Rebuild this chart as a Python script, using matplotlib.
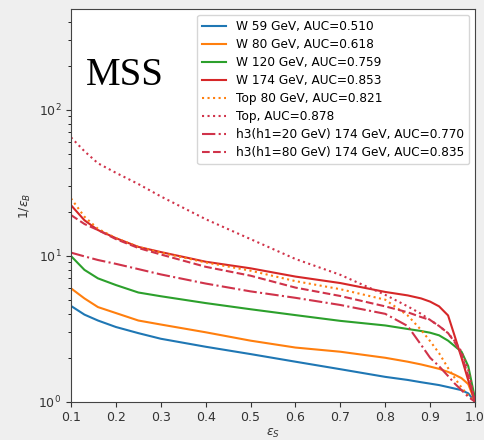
import matplotlib
matplotlib.use("Agg")
import matplotlib.pyplot as plt
from matplotlib.ticker import FixedLocator

# Signal efficiency grid shared by all ROC curves
eps_s = [0.10, 0.13, 0.16, 0.20, 0.25, 0.30, 0.40, 0.50, 0.60, 0.70,
         0.80, 0.85, 0.88, 0.90, 0.92, 0.94, 0.955, 0.97, 0.985, 1.00]

# Background rejection 1/eps_B for each tagger
w59 = [4.53, 3.95, 3.6, 3.25, 2.95, 2.7, 2.38, 2.12, 1.88, 1.67,
       1.48, 1.41, 1.36, 1.33, 1.30, 1.26, 1.23, 1.2, 1.14, 1.0]
w80 = [5.98, 5.1, 4.45, 4.05, 3.6, 3.38, 2.99, 2.62, 2.35, 2.2,
       2.0, 1.88, 1.8, 1.74, 1.68, 1.6, 1.53, 1.45, 1.32, 1.0]
w120 = [9.95, 8.0, 7.0, 6.3, 5.6, 5.28, 4.74, 4.3, 3.92, 3.58,
        3.33, 3.15, 3.05, 2.97, 2.85, 2.62, 2.4, 2.2, 1.75, 1.05]
w174 = [22.2, 17.5, 15.0, 13.2, 11.5, 10.6, 9.1, 8.2, 7.2, 6.5,
        5.65, 5.35, 5.1, 4.85, 4.5, 3.9, 2.8, 2.0, 1.4, 1.0]
top80 = [24.7, 18.5, 15.3, 13.2, 11.5, 10.5, 9.0, 7.9, 6.7, 5.9,
         5.0, 3.9, 3.1, 2.6, 2.15, 1.7, 1.45, 1.25, 1.1, 1.0]
top = [64.7, 52.0, 43.0, 37.0, 31.0, 25.5, 17.8, 13.0, 9.5, 7.4,
       5.4, 4.5, 4.0, 3.63, 3.3, 2.95, 2.6, 2.2, 1.65, 1.0]
h3_h1_20 = [10.5, 9.9, 9.35, 8.8, 8.1, 7.45, 6.45, 5.7, 5.15, 4.6,
            4.0, 3.3, 2.45, 2.0, 1.75, 1.5, 1.33, 1.2, 1.08, 1.0]
h3_h1_80 = [19.0, 16.5, 15.0, 13.0, 11.3, 10.2, 8.4, 7.3, 6.05, 5.3,
            4.5, 4.1, 3.8, 3.63, 3.3, 2.95, 2.55, 2.1, 1.5, 1.0]

labels = ["W 59 GeV, AUC=0.510", "W 80 GeV, AUC=0.618",
          "W 120 GeV, AUC=0.759", "W 174 GeV, AUC=0.853",
          "Top 80 GeV, AUC=0.821", "Top, AUC=0.878",
          "h3(h1=20 GeV) 174 GeV, AUC=0.770",
          "h3(h1=80 GeV) 174 GeV, AUC=0.835"]

x_ticks = [0.1, 0.2, 0.3, 0.4, 0.5, 0.6, 0.7, 0.8, 0.9, 1.0]

fig = plt.figure(figsize=(4.85, 4.4), dpi=100, facecolor="#efefef")
ax = fig.add_axes([0.1464, 0.087, 0.833, 0.8925])
ax.set_facecolor("white")

red = "#d62728"
pink_red = "#d0334a"
series = [
    (w59, "#1f77b4", "-"),
    (w80, "#ff7f0e", "-"),
    (w120, "#2ca02c", "-"),
    (w174, red, "-"),
    (top80, "#ff7f0e", ":"),
    (top, pink_red, ":"),
    (h3_h1_20, pink_red, "-."),
    (h3_h1_80, pink_red, "--"),
]
for (vals, col, ls), lab in zip(series, labels):
    ax.plot(eps_s, vals, color=col, linestyle=ls, linewidth=1.5, label=lab)

ax.set_yscale("log")
ax.set_xlim(0.1, 1.0)
ax.set_ylim(1, 490)
ax.xaxis.set_major_locator(FixedLocator(x_ticks))
ax.set_xticklabels([f"{t:.1f}" for t in x_ticks])

tick_col = "#333333"
ax.tick_params(axis="both", labelsize=9, colors=tick_col)
for s in ax.spines.values():
    s.set_color("#444444")

ax.set_xlabel(r"$\epsilon_S$", fontsize=9, color=tick_col, labelpad=2)
ax.set_ylabel(r"$1/\epsilon_B$", fontsize=9, color=tick_col)

ax.legend(loc="upper right", fontsize=8.7, framealpha=0.8, edgecolor="#cccccc",
          labelspacing=0.42)

ax.text(0.037, 0.806, "MSS", transform=ax.transAxes, family="Liberation Serif",
        fontsize=28, va="baseline", ha="left", color="black")

fig.savefig("out.png", dpi=100, facecolor=fig.get_facecolor())
